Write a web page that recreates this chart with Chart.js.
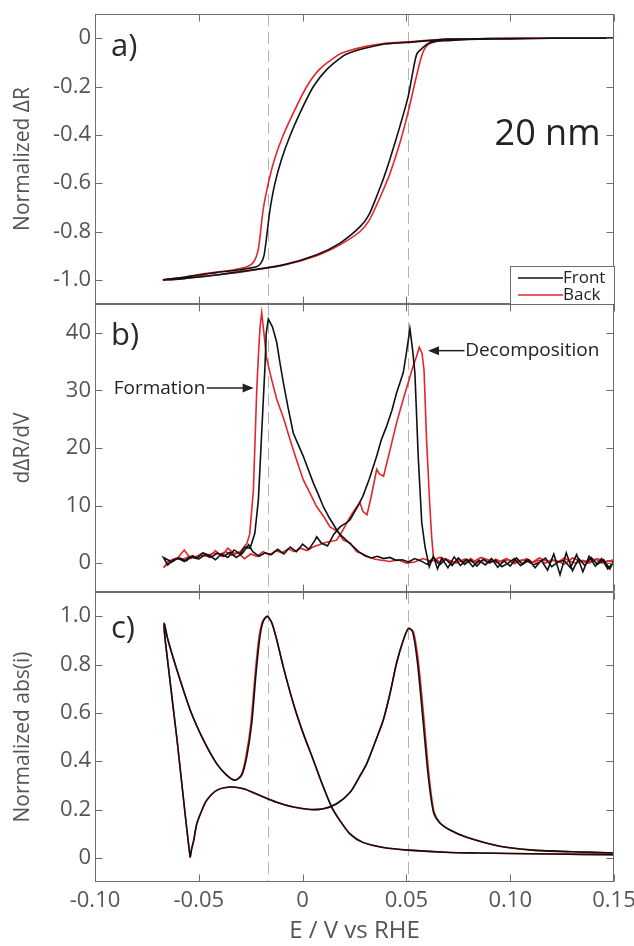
<!DOCTYPE html>
<html>
<head>
<meta charset="utf-8">
<script src="https://cdn.jsdelivr.net/npm/chart.js@4.4.0/dist/chart.umd.min.js"></script>
<style>
    body { margin: 0; background: #fff; }
    #wrap { position: relative; width: 634px; height: 946px; }
    canvas { position: absolute; left: 0; }
</style>
</head>
<body>
<div id="wrap">
    <canvas id="panelA" width="634" height="320" style="top:0px"></canvas>
    <canvas id="panelB" width="634" height="320" style="top:290px"></canvas>
    <canvas id="panelC" width="634" height="368" style="top:578px"></canvas>
</div>
<script>
// ---- axis ticks and guide lines ----
const xTicks = [-0.10, -0.05, 0, 0.05, 0.10, 0.15];
const xTickLabels = ['-0.10', '-0.05', '0', '0.05', '0.10', '0.15'];
const aTicks = [-1.0, -0.8, -0.6, -0.4, -0.2, 0];
const bTicks = [0, 10, 20, 30, 40];
const cTicks = [0, 0.2, 0.4, 0.6, 0.8, 1.0];
const markerE = [-0.0167, 0.0509];

// ---- a) normalized dR, front (black) and back (red): cathodic sweep then anodic sweep ----
const aFrontE = [0.150, 0.120, 0.090, 0.070, 0.050, 0.0389, 0.031, 0.0228, 0.0196, 0.0116, 0.0052, -0.0013, -0.0061, -0.0101, -0.0133, -0.0157, -0.0173, -0.0186, -0.0200, -0.0220, -0.0300, -0.0414, -0.0500, -0.0575, -0.0670,
    -0.0620, -0.0575, -0.0500, -0.0414, -0.0253, -0.0093, 0.0068, 0.0180, 0.0277, 0.0320, 0.0357, 0.0390, 0.0421, 0.0469, 0.0509, 0.0533, 0.0550, 0.0574, 0.0614, 0.0700, 0.0800, 0.1000, 0.1200, 0.1500];
const aFrontR = [0.000, 0.001, -0.002, -0.004, -0.018, -0.025, -0.040, -0.060, -0.073, -0.130, -0.200, -0.310, -0.405, -0.500, -0.600, -0.710, -0.820, -0.900, -0.930, -0.945, -0.958, -0.970, -0.980, -0.990, -1.000,
    -0.998, -0.995, -0.988, -0.980, -0.960, -0.938, -0.896, -0.848, -0.780, -0.730, -0.654, -0.580, -0.500, -0.364, -0.240, -0.130, -0.066, -0.043, -0.018, -0.010, -0.005, -0.003, 0.000, 0.000];
const aBackE = [0.150, 0.120, 0.090, 0.070, 0.050, 0.0389, 0.030, 0.0210, 0.0170, 0.0080, 0.0020, -0.0045, -0.0095, -0.0135, -0.0165, -0.0190, -0.0205, -0.0215, -0.0235, -0.0265, -0.0330, -0.0414, -0.0500, -0.0575, -0.0670,
    -0.0620, -0.0575, -0.0500, -0.0414, -0.0253, -0.0093, 0.0068, 0.0180, 0.0277, 0.0320, 0.0357, 0.0390, 0.0421, 0.0470, 0.0510, 0.0545, 0.0575, 0.0600, 0.0650, 0.0720, 0.0800, 0.1000, 0.1200, 0.1500];
const aBackR = [0.000, 0.000, -0.002, -0.004, -0.015, -0.022, -0.035, -0.055, -0.070, -0.130, -0.200, -0.310, -0.405, -0.500, -0.600, -0.710, -0.820, -0.880, -0.925, -0.945, -0.958, -0.968, -0.978, -0.990, -1.000,
    -0.998, -0.995, -0.988, -0.980, -0.962, -0.940, -0.900, -0.855, -0.800, -0.755, -0.690, -0.625, -0.560, -0.430, -0.300, -0.170, -0.070, -0.030, -0.012, -0.006, -0.004, -0.002, 0.000, 0.000];

// ---- b) dR/dV ----
const bFrontE = [0.150, 0.147, 0.144, 0.141, 0.138, 0.135, 0.132, 0.129, 0.126, 0.123, 0.120, 0.117, 0.114, 0.111, 0.108, 0.105, 0.102, 0.099, 0.096, 0.093,
    0.090, 0.087, 0.084, 0.081, 0.078, 0.075, 0.072, 0.069, 0.066, 0.063, 0.060, 0.057, 0.054, 0.051, 0.048, 0.045, 0.042, 0.039, 0.036, 0.033,
    0.030, 0.027, 0.024, 0.021, 0.018, 0.0164, 0.013, 0.010, 0.0075, 0.0052, 0.0025, 0.0003, -0.002, -0.0045, -0.007, -0.0093, -0.011, -0.0125, -0.0145, -0.0165,
    -0.0175, -0.0181, -0.0197, -0.0213, -0.023, -0.0253, -0.028, -0.0301, -0.033, -0.036, -0.039, -0.042, -0.045, -0.048, -0.051, -0.054, -0.057, -0.060, -0.063, -0.065, -0.067,
    -0.065, -0.062, -0.059, -0.056, -0.053, -0.050, -0.047, -0.044, -0.041, -0.038, -0.035, -0.032, -0.029, -0.026, -0.024, -0.021, -0.018, -0.015, -0.012,
    -0.009, -0.006, -0.003, 0.000, 0.003, 0.006, 0.0068, 0.009, 0.012, 0.015, 0.018, 0.021, 0.0228, 0.026, 0.029, 0.032, 0.0357, 0.038, 0.0405, 0.043,
    0.0453, 0.0485, 0.050, 0.0517, 0.053, 0.0541, 0.0557, 0.0574, 0.059, 0.061, 0.063, 0.065, 0.067, 0.070, 0.073, 0.076, 0.079, 0.082, 0.085, 0.088, 0.091,
    0.094, 0.097, 0.100, 0.103, 0.106, 0.109, 0.112, 0.115, 0.118, 0.121, 0.124, 0.127, 0.130, 0.133, 0.136, 0.139, 0.142, 0.145, 0.148, 0.150];
const bFrontV = [0.3, -1.0, 0.8, -0.5, 1.2, -1.5, 1.5, -0.8, 0.5, 0.2, -0.6, 0.9, 0.1, -0.3, 0.6, -0.4, 0.8, 0.0, -0.6, 0.5,
    0.1, 0.7, -0.5, 0.6, -0.2, 0.9, -0.4, 0.7, -0.3, 1.0, -0.2, 0.4, 0.8, 0.2, 0.6, 0.5, 1.0, 0.8, 1.2, 0.9,
    1.3, 2.0, 3.0, 4.0, 5.0, 5.8, 7.8, 9.8, 12.0, 13.9, 16.5, 18.6, 20.5, 22.6, 27.0, 31.4, 35.0, 38.4, 41.0, 42.4,
    40.0, 34.3, 22.7, 11.0, 5.2, 2.6, 2.8, 1.6, 2.3, 1.0, 1.6, 0.6, 1.4, 1.8, 0.8, 1.2, 0.3, 0.9, 0.2, 0.6, 1.0,
    -0.3, 0.6, 0.9, 0.4, 1.3, 0.7, 1.5, 1.0, 1.8, 1.2, 1.9, 1.0, 1.7, 3.2, 2.0, 1.2, 1.8, 1.5, 2.4,
    1.6, 2.8, 2.0, 3.3, 2.4, 4.0, 4.6, 3.5, 3.0, 5.0, 6.3, 7.0, 7.5, 9.5, 11.6, 14.5, 18.6, 21.5, 23.8, 26.5,
    29.6, 33.1, 36.5, 40.7, 37.0, 33.0, 18.5, 7.0, 2.8, -0.6, 1.2, -1.0, 0.9, -0.8, 1.1, -0.4, 0.7, -0.6, 0.5, -0.3, 0.8,
    -0.7, 0.4, -0.5, 0.9, -0.2, 0.6, -0.8, 0.5, -1.2, 1.6, -2.0, 1.8, -1.3, 0.8, -0.4, 1.0, -0.2, 0.6, -1.0, 0.5];
const bBackE = [0.150, 0.146, 0.142, 0.138, 0.134, 0.130, 0.126, 0.122, 0.118, 0.114, 0.110, 0.106, 0.102, 0.098, 0.094, 0.090, 0.086, 0.082, 0.078, 0.074,
    0.070, 0.066, 0.062, 0.058, 0.054, 0.050, 0.046, 0.042, 0.038, 0.035, 0.0325, 0.029, 0.026, 0.023, 0.0196, 0.017, 0.0132, 0.010, 0.0068, 0.0035,
    0.0003, -0.003, -0.0061, -0.009, -0.0125, -0.015, -0.0173, -0.0185, -0.0197, -0.0205, -0.0213, -0.0221, -0.0237, -0.0255, -0.0269, -0.030, -0.033, -0.036, -0.039, -0.042,
    -0.045, -0.048, -0.051, -0.054, -0.057, -0.060, -0.063, -0.065, -0.067,
    -0.064, -0.061, -0.058, -0.055, -0.052, -0.049, -0.046, -0.043, -0.040, -0.037, -0.034, -0.031, -0.028, -0.025, -0.022, -0.019, -0.016, -0.013, -0.010,
    -0.007, -0.004, -0.001, 0.002, 0.005, 0.008, 0.011, 0.0164, 0.019, 0.0228, 0.0255, 0.0277, 0.029, 0.031, 0.033, 0.0357, 0.037, 0.039, 0.042, 0.0453,
    0.0485, 0.051, 0.0533, 0.055, 0.0562, 0.0575, 0.0585, 0.0597, 0.0613, 0.0622, 0.063, 0.066, 0.069, 0.072, 0.075, 0.078, 0.081, 0.084, 0.087, 0.090,
    0.093, 0.096, 0.099, 0.102, 0.105, 0.108, 0.111, 0.114, 0.117, 0.120, 0.123, 0.126, 0.129, 0.132, 0.135, 0.138, 0.141, 0.144, 0.147, 0.150];
const bBackV = [0.6, 0.2, 0.8, 0.0, 0.4, 0.9, -0.2, 0.5, 0.3, 0.9, 0.0, 0.6, 0.2, 0.8, 0.1, 0.5, 1.0, 0.2, 0.7, 0.0,
    0.6, 1.0, 0.3, 0.8, 0.2, 0.0, 0.6, 0.3, 0.5, 0.7, 1.0, 1.6, 2.0, 3.5, 4.0, 5.5, 6.3, 8.2, 9.8, 12.2,
    14.5, 18.0, 21.5, 25.0, 28.5, 32.0, 35.5, 39.5, 43.5, 41.0, 36.0, 30.0, 12.7, 5.0, 3.4, 2.0, 1.7, 2.6, 1.2, 2.2,
    1.0, 1.8, 1.2, 0.8, 2.3, 1.0, 0.6, 0.2, -0.8,
    0.3, 0.8, 0.6, 1.1, 0.9, 1.4, 1.2, 1.8, 1.5, 2.0, 1.3, 1.8, 0.8, 1.6, 1.2, 2.0, 1.4, 2.2, 1.8,
    2.5, 2.0, 2.6, 2.2, 2.8, 3.2, 3.6, 4.0, 5.5, 8.0, 9.5, 10.5, 9.0, 8.4, 11.5, 16.3, 15.5, 15.1, 19.5, 24.4,
    28.5, 31.5, 34.3, 36.0, 37.5, 36.5, 33.5, 21.5, 9.8, 4.5, 1.0, 0.2, 0.8, 0.0, 0.6, 0.2, 0.8, 0.1, 0.5, 0.0,
    0.7, 0.2, 0.6, -0.1, 0.4, 0.8, 0.1, 0.5, 0.0, 0.6, 0.2, 0.9, 0.3, 0.0, 0.5, 0.2, 0.7, 0.0, 0.4, 0.2];

// ---- c) normalized abs(i) ----
const cFrontE = [0.150, 0.120, 0.100, 0.085, 0.071, 0.0509, 0.0389, 0.029, 0.0228, 0.018, 0.014, 0.010, 0.0052, 0.0003, -0.0045, -0.0093, -0.0125, -0.0149, -0.0170, -0.0189,
    -0.0205, -0.0224, -0.0245, -0.0269, -0.0293, -0.0326, -0.0366, -0.0414, -0.0478, -0.0542, -0.0606, -0.0648, -0.0667,
    -0.0661, -0.0606, -0.0542, -0.0535, -0.0525, -0.0510, -0.0486, -0.0462, -0.0414, -0.0350, -0.0285, -0.0205, -0.0125, -0.0045, 0.0036, 0.0100, 0.0164, 0.0228, 0.0277, 0.0309,
    0.0350, 0.0389, 0.0421, 0.0453, 0.0485, 0.0509, 0.0530, 0.0553, 0.0581, 0.0605, 0.0630, 0.0660, 0.0710, 0.0790, 0.0950, 0.1110, 0.1300, 0.1500];
const cFrontV = [0.013, 0.016, 0.018, 0.020, 0.022, 0.032, 0.043, 0.064, 0.099, 0.154, 0.210, 0.293, 0.404, 0.515, 0.640, 0.790, 0.904, 0.974, 0.999, 0.980,
    0.918, 0.766, 0.557, 0.418, 0.342, 0.321, 0.342, 0.390, 0.488, 0.613, 0.779, 0.900, 0.970,
    0.895, 0.497, 0.005, 0.035, 0.070, 0.140, 0.195, 0.238, 0.279, 0.293, 0.286, 0.258, 0.230, 0.210, 0.200, 0.203, 0.224, 0.270, 0.340, 0.390,
    0.480, 0.571, 0.680, 0.807, 0.900, 0.949, 0.935, 0.810, 0.560, 0.340, 0.190, 0.145, 0.115, 0.085, 0.048, 0.032, 0.025, 0.020];
const cBackE = [0.150, 0.120, 0.100, 0.085, 0.071, 0.0509, 0.0389, 0.029, 0.0228, 0.018, 0.014, 0.010, 0.0052, 0.0003, -0.0045, -0.0093, -0.0125, -0.0149, -0.0170, -0.0192,
    -0.0209, -0.0228, -0.0249, -0.0273, -0.0296, -0.0326, -0.0366, -0.0414, -0.0478, -0.0542, -0.0606, -0.0648, -0.0667,
    -0.0661, -0.0606, -0.0542, -0.0535, -0.0525, -0.0510, -0.0486, -0.0462, -0.0414, -0.0350, -0.0285, -0.0205, -0.0125, -0.0045, 0.0036, 0.0100, 0.0164, 0.0228, 0.0277, 0.0309,
    0.0350, 0.0389, 0.0421, 0.0453, 0.0485, 0.0511, 0.0534, 0.0558, 0.0586, 0.0609, 0.0633, 0.0662, 0.0710, 0.0790, 0.0950, 0.1110, 0.1300, 0.1500];
const cBackV = cFrontV;

// ---- helpers ----
const FONT = "'Open Sans', 'Noto Sans', sans-serif";
Chart.defaults.font.family = FONT;
Chart.defaults.color = '#555';

function pts(es, vs) {
    return es.map((e, i) => ({ x: e, y: vs[i] }));
}

function line(label, es, vs, color, tension) {
    return {
        label: label,
        data: pts(es, vs),
        showLine: true,
        borderColor: color,
        backgroundColor: color,
        borderWidth: 1.6,
        pointRadius: 0,
        tension: tension || 0
    };
}

function yAxis(min, max, ticks, fmt, title) {
    return {
        min: min,
        max: max,
        afterBuildTicks: s => { s.ticks = ticks.map(v => ({ value: v })); },
        afterFit: s => { s.width = 95; s.paddingTop = 0; s.paddingBottom = 0; },
        ticks: { callback: fmt, font: { size: 22 }, color: '#555', padding: 4 },
        grid: { display: false, drawTicks: false },
        border: { display: false },
        title: { display: true, text: title, font: { size: 21 }, color: '#555', padding: { top: 10, bottom: 0 } }
    };
}

const hiddenX = { type: 'linear', display: false, min: -0.10, max: 0.15 };
const dec1 = v => (v === 0 ? '0' : v.toFixed(1));

function arrow(ctx, x1, y1, x2, y2) {
    const ang = Math.atan2(y2 - y1, x2 - x1);
    ctx.beginPath();
    ctx.moveTo(x1, y1);
    ctx.lineTo(x2 - 8 * Math.cos(ang), y2 - 8 * Math.sin(ang));
    ctx.stroke();
    ctx.beginPath();
    ctx.moveTo(x2, y2);
    ctx.lineTo(x2 - 11 * Math.cos(ang) + 4.5 * Math.sin(ang), y2 - 11 * Math.sin(ang) - 4.5 * Math.cos(ang));
    ctx.lineTo(x2 - 11 * Math.cos(ang) - 4.5 * Math.sin(ang), y2 - 11 * Math.sin(ang) + 4.5 * Math.cos(ang));
    ctx.closePath();
    ctx.fill();
}

// frame, inward ticks and dashed guide lines (MATLAB-like box)
const framePlugin = {
    id: 'frame',
    beforeDatasetsDraw(chart) {
        const { ctx, chartArea: a, scales: { x } } = chart;
        ctx.save();
        ctx.strokeStyle = '#b4b4b4';
        ctx.lineWidth = 1;
        ctx.setLineDash([12, 6]);
        markerE.forEach(e => {
            const px = Math.round(x.getPixelForValue(e)) + 0.5;
            ctx.beginPath();
            ctx.moveTo(px, a.top);
            ctx.lineTo(px, a.bottom);
            ctx.stroke();
        });
        ctx.restore();
    },
    afterDatasetsDraw(chart) {
        const { ctx, chartArea: a, scales: { x, y } } = chart;
        const L = Math.round(a.left) + 0.5, R = Math.round(a.right) - 0.5;
        const T = Math.round(a.top) + 0.5, B = Math.round(a.bottom) - 0.5;
        ctx.save();
        ctx.strokeStyle = '#6e6e6e';
        ctx.lineWidth = 1;
        ctx.strokeRect(L, T, R - L, B - T);
        ctx.beginPath();
        xTicks.forEach(v => {
            const px = Math.round(x.getPixelForValue(v)) + 0.5;
            ctx.moveTo(px, B); ctx.lineTo(px, B - 7);
            ctx.moveTo(px, T); ctx.lineTo(px, T + 7);
        });
        y.ticks.forEach(t => {
            const py = Math.round(y.getPixelForValue(t.value)) + 0.5;
            ctx.moveTo(L, py); ctx.lineTo(L + 7, py);
            ctx.moveTo(R, py); ctx.lineTo(R - 7, py);
        });
        ctx.stroke();
        ctx.restore();
    }
};

function letterPlugin(letter, dy) {
    return {
        id: 'letter',
        afterDraw(chart) {
            const { ctx, chartArea: a } = chart;
            ctx.save();
            ctx.font = '31px ' + FONT;
            ctx.fillStyle = '#2a2a2a';
            ctx.textAlign = 'left';
            ctx.textBaseline = 'middle';
            ctx.fillText(letter, a.left + 16, a.top + dy);
            ctx.restore();
        }
    };
}

const baseOptions = {
    responsive: false,
    animation: false,
    events: [],
    plugins: { legend: { display: false }, tooltip: { enabled: false } }
};

// ---- panel a ----
new Chart(document.getElementById('panelA'), {
    type: 'scatter',
    data: {
        datasets: [
            line('Front', aFrontE, aFrontR, '#111111', 0.25),
            line('Back', aBackE, aBackR, '#e3262b', 0.25)
        ]
    },
    options: {
        ...baseOptions,
        layout: { padding: { top: 14, bottom: 16, left: 0, right: 20 } },
        scales: {
            x: hiddenX,
            y: yAxis(-1.1, 0.1, aTicks, dec1, 'Normalized ΔR')
        }
    },
    plugins: [framePlugin, letterPlugin('a)', 33), {
        id: 'notesA',
        afterDraw(chart) {
            const { ctx, chartArea: a, scales: { x, y } } = chart;
            ctx.save();
            ctx.font = '36px ' + FONT;
            ctx.fillStyle = '#222';
            ctx.textAlign = 'center';
            ctx.textBaseline = 'middle';
            ctx.fillText('20 nm', x.getPixelForValue(0.118), y.getPixelForValue(-0.40));
            // legend box in the lower right corner
            const bx = a.right - 104, by = a.bottom - 38;
            ctx.fillStyle = '#fff';
            ctx.fillRect(bx, by, 104, 38);
            ctx.strokeStyle = '#6e6e6e';
            ctx.lineWidth = 1;
            ctx.strokeRect(Math.round(bx) + 0.5, Math.round(by) + 0.5, 104, 38);
            const rows = [['Front', '#111111'], ['Back', '#e3262b']];
            ctx.font = '17px ' + FONT;
            ctx.textAlign = 'left';
            rows.forEach((r, i) => {
                const ly = by + 12 + i * 17;
                ctx.strokeStyle = r[1];
                ctx.lineWidth = 1.6;
                ctx.beginPath();
                ctx.moveTo(bx + 8, ly);
                ctx.lineTo(bx + 53, ly);
                ctx.stroke();
                ctx.fillStyle = '#222';
                ctx.fillText(r[0], bx + 53, ly);
            });
            ctx.restore();
        }
    }]
});

// ---- panel b ----
new Chart(document.getElementById('panelB'), {
    type: 'scatter',
    data: {
        datasets: [
            line('Front', bFrontE, bFrontV, '#111111'),
            line('Back', bBackE, bBackV, '#e3262b')
        ]
    },
    options: {
        ...baseOptions,
        layout: { padding: { top: 14, bottom: 18, left: 0, right: 20 } },
        scales: {
            x: hiddenX,
            y: yAxis(-5, 45, bTicks, v => String(v), 'dΔR/dV')
        }
    },
    plugins: [framePlugin, letterPlugin('b)', 32), {
        id: 'notesB',
        afterDraw(chart) {
            const { ctx, scales: { x, y } } = chart;
            ctx.save();
            ctx.font = '19px ' + FONT;
            ctx.fillStyle = '#222';
            ctx.strokeStyle = '#222';
            ctx.lineWidth = 1.5;
            ctx.textBaseline = 'middle';
            const fy = y.getPixelForValue(30.4);
            ctx.textAlign = 'right';
            ctx.fillText('Formation', x.getPixelForValue(-0.0468), fy);
            arrow(ctx, x.getPixelForValue(-0.0462), fy, x.getPixelForValue(-0.0236), fy);
            const dy = y.getPixelForValue(36.9);
            ctx.textAlign = 'left';
            ctx.fillText('Decomposition', x.getPixelForValue(0.0783), dy);
            arrow(ctx, x.getPixelForValue(0.0780), dy, x.getPixelForValue(0.0604), dy);
            ctx.restore();
        }
    }]
});

// ---- panel c ----
new Chart(document.getElementById('panelC'), {
    type: 'scatter',
    data: {
        datasets: [
            line('Front', cFrontE, cFrontV, '#111111', 0.25),
            line('Back', cBackE, cBackV, '#e3262b', 0.25)
        ]
    },
    options: {
        ...baseOptions,
        layout: { padding: { top: 14, bottom: 0, left: 0, right: 20 } },
        scales: {
            x: {
                type: 'linear',
                min: -0.10,
                max: 0.15,
                afterBuildTicks: s => { s.ticks = xTicks.map(v => ({ value: v })); },
                afterFit: s => { s.height = 64; s.paddingLeft = 0; s.paddingRight = 0; },
                ticks: {
                    callback: (v, i) => xTickLabels[i],
                    font: { size: 22 },
                    color: '#555',
                    padding: 6,
                    maxRotation: 0
                },
                grid: { display: false, drawTicks: false },
                border: { display: false },
                title: { display: true, text: 'E / V vs RHE', font: { size: 24 }, color: '#555', padding: { top: 0, bottom: 0 } }
            },
            y: yAxis(-0.1, 1.1, cTicks, dec1, 'Normalized abs(i)')
        }
    },
    plugins: [framePlugin, letterPlugin('c)', 37)]
});
</script>
</body>
</html>
